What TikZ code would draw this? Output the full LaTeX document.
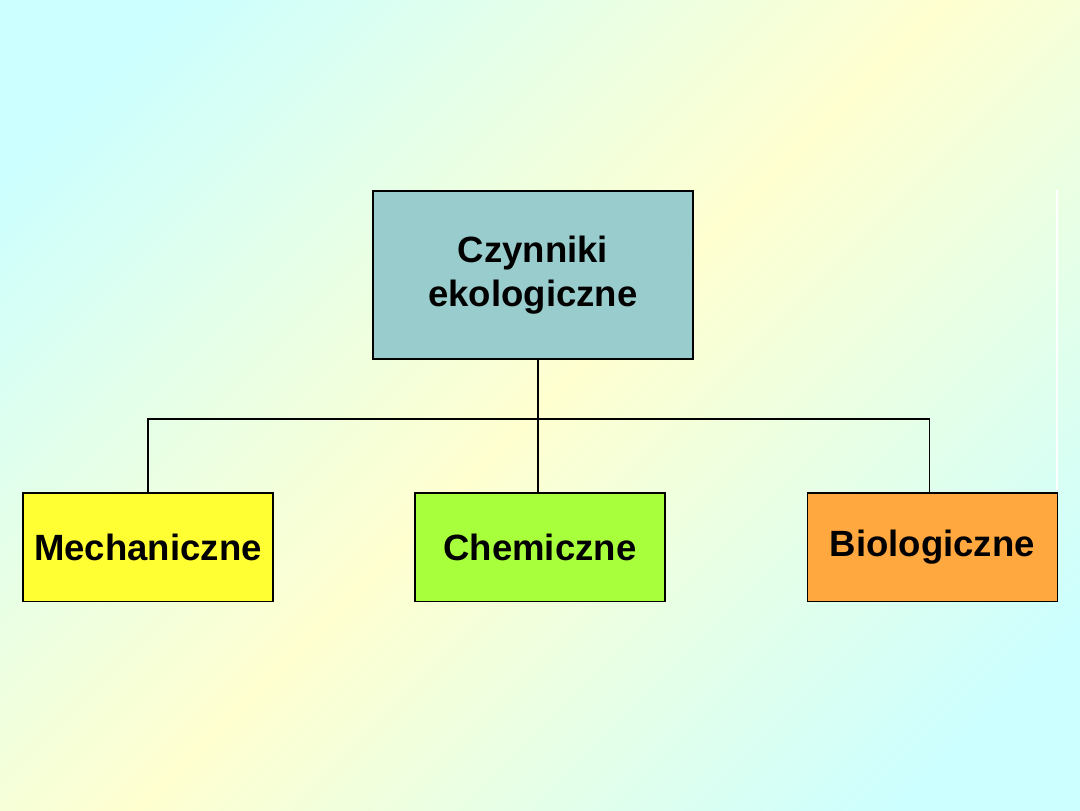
\documentclass[tikz,border=0pt]{standalone}
\usepackage{fontspec}
\setmainfont{Liberation Sans}
\usetikzlibrary{positioning}
\definecolor{bgcyan}{HTML}{CCFFFF}
\definecolor{bgyellow}{HTML}{FFFFD0}
\definecolor{topfill}{HTML}{99CCCC}
\definecolor{mechfill}{HTML}{FFFF33}
\definecolor{chemfill}{HTML}{A8FF3C}
\definecolor{biofill}{HTML}{FFA840}
\pgfdeclarehorizontalshading{bgdiag}{100bp}{color(0bp)=(bgcyan); color(30bp)=(bgcyan); color(50bp)=(bgyellow); color(70bp)=(bgcyan); color(100bp)=(bgcyan)}

\begin{document}
\begin{tikzpicture}[
    x=0.025cm, y=-0.025cm,
    factor/.style={rectangle, draw=black, line width=1pt, minimum width=6.25cm, minimum height=2.72cm, font=\fontsize{26}{31}\selectfont\bfseries, align=center},
    link/.style={line width=1pt}
]

% Background
\begin{scope}[x=1cm, y=1cm]
\clip (0,0) rectangle (27,-20.25);
\shade[shading=bgdiag, shading angle=-45] (13.5,-10.125) ++(-17,-17) rectangle ++(34,34);
\end{scope}
\useasboundingbox (0,0) rectangle (1080,810);
\draw[white, line width=1.5pt] (1057,190) -- (1057,490);

% Boxes
\node[factor, fill=topfill, minimum width=8cm, minimum height=4.2cm] (main) at (533,275) {Czynniki\\ekologiczne};
\node[factor, fill=mechfill] (mech) at (148,547.5) {Mechaniczne};
\node[factor, fill=chemfill] (chem) at (540,547.5) {Chemiczne};
\node[factor, fill=biofill] (bio) at (932.5,547.5) {Biologiczne};

% Connectors
\coordinate (bar) at (538,419);
\coordinate (rgt) at (930,419);
\draw[link] (main.south -| bar) -- (chem.north -| bar);
\draw[link] (mech.north) -- (mech.north |- bar) -- (rgt) -- (bio.north -| rgt);

\end{tikzpicture}
\end{document}
